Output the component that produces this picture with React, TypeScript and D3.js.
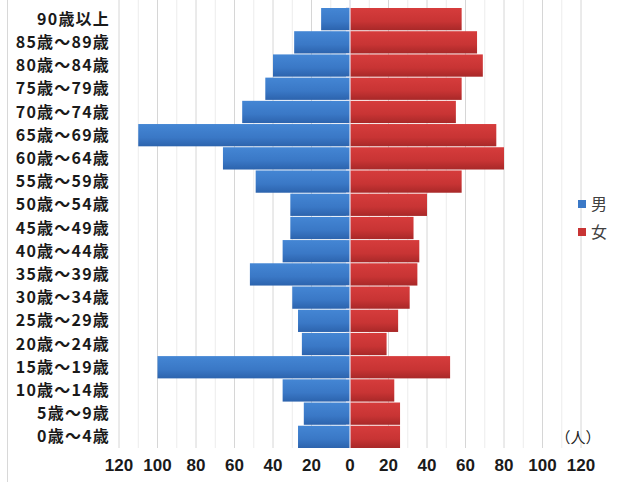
import React from "react";
import * as d3 from "d3";

const categories = [
  "90歳以上", "85歳～89歳", "80歳～84歳", "75歳～79歳", "70歳～74歳", "65歳～69歳",
  "60歳～64歳", "55歳～59歳", "50歳～54歳", "45歳～49歳", "40歳～44歳", "35歳～39歳",
  "30歳～34歳", "25歳～29歳", "20歳～24歳", "15歳～19歳", "10歳～14歳", "5歳～9歳", "0歳～4歳",
];
const male = [15, 29, 40, 44, 56, 110, 66, 49, 31, 31, 35, 52, 30, 27, 25, 100, 35, 24, 27];
const female = [58, 66, 69, 58, 55, 76, 80, 58, 40, 33, 36, 35, 31, 25, 19, 52, 23, 26, 26];
const tickValues = [-120, -100, -80, -60, -40, -20, 0, 20, 40, 60, 80, 100, 120];
const legendItems = ["男", "女"];
const unitLabel = "（人）";

export default function App() {
  const W = 623, H = 482;
  const x = d3.scaleLinear().domain([-120, 120]).range([119, 581]);
  const y = d3.scaleBand<string>().domain(categories).range([8, 448]).paddingInner(0.04);
  const minor = d3.range(-120, 121, 10);
  const bw = y.bandwidth();
  const numFont = "'Liberation Sans', Arial, sans-serif";
  const jpFont = "'Noto Sans CJK JP', sans-serif";
  return (
    <svg width={W} height={H} style={{ position: "absolute", left: 0, top: 0, background: "#fff" }}>
      <defs>
        <linearGradient id="gBlue" x1="0" y1="0" x2="0" y2="1">
          <stop offset="0" stopColor="#4486d4" />
          <stop offset="0.6" stopColor="#3a78c6" />
          <stop offset="1" stopColor="#2c63ad" />
        </linearGradient>
        <linearGradient id="gRed" x1="0" y1="0" x2="0" y2="1">
          <stop offset="0" stopColor="#d63c3c" />
          <stop offset="0.6" stopColor="#c83434" />
          <stop offset="1" stopColor="#a82828" />
        </linearGradient>
      </defs>
      <rect x={0} y={0} width={W} height={H} fill="#fff" />
      <line x1={7.5} x2={7.5} y1={0} y2={H} stroke="#d8d8d8" />
      {minor.map((v) => (
        <line key={"g" + v} x1={x(v)} x2={x(v)} y1={0} y2={448}
          stroke={v % 20 === 0 ? "#d6d6d6" : "#ececec"} strokeWidth={1} />
      ))}
      {categories.map((c, i) => (
        <g key={c}>
          <rect x={x(-male[i])} y={y(c)!} width={x(0) - x(-male[i])} height={bw} fill="url(#gBlue)" />
          <rect x={x(0)} y={y(c)!} width={x(female[i]) - x(0)} height={bw} fill="url(#gRed)" />
        </g>
      ))}
      <line x1={x(0)} x2={x(0)} y1={0} y2={448} stroke="#e4e4f0" strokeWidth={1.2} />
      {categories.map((c) => (
        <line key={"t" + c} x1={x(0) - 4} x2={x(0)} y1={y(c)! - 0.5} y2={y(c)! - 0.5} stroke="#e4e4f0" />
      ))}
      {categories.map((c) => (
        <text key={"l" + c} x={110} y={y(c)! + bw / 2} dy="0.35em" textAnchor="end"
          fontFamily={jpFont} fontWeight="bold" fontSize={16} letterSpacing={1.2} fill="#1a1a1a">
          {c}
        </text>
      ))}
      {tickValues.map((v) => (
        <text key={"x" + v} x={x(v)} y={465} dy="0.35em" textAnchor="middle"
          fontFamily={numFont} fontWeight="bold" fontSize={17} fill="#1a1a1a">
          {Math.abs(v)}
        </text>
      ))}
      <text x={578} y={438} dy="0.35em" textAnchor="middle" fontFamily={jpFont} fontSize={15} fill="#222">
        {unitLabel}
      </text>
      {legendItems.map((name, i) => (
        <g key={name} transform={`translate(578, ${204 + i * 28})`}>
          <rect x={0} y={-4} width={8} height={8} fill={i === 0 ? "#3a78c6" : "#c83434"} />
          <text x={13} y={0} dy="0.35em" fontFamily={jpFont} fontSize={16} fill="#404040">{name}</text>
        </g>
      ))}
    </svg>
  );
}
